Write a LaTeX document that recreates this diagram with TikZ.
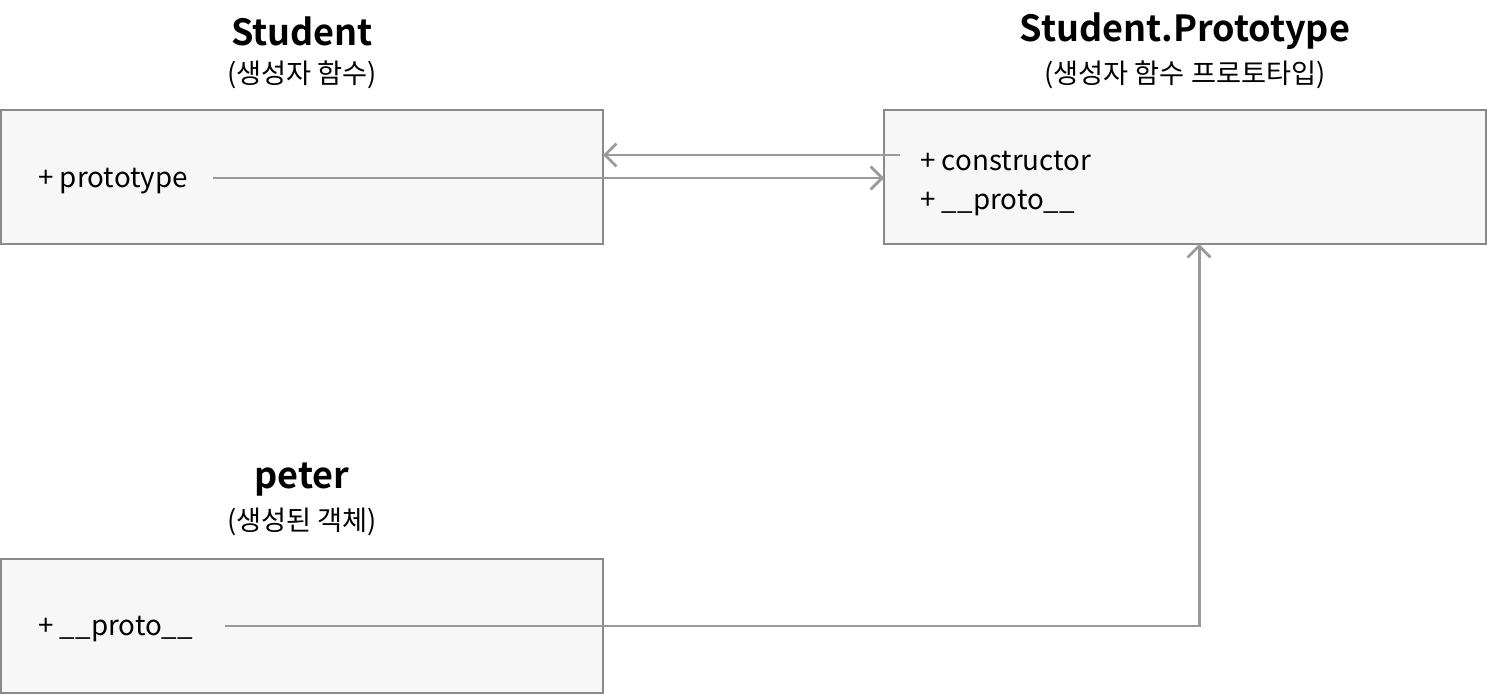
\documentclass[tikz,border=0pt]{standalone}
\usepackage{fontspec}
\setmainfont{Noto Sans CJK KR}[BoldFont={Noto Sans CJK KR Bold}]
\usetikzlibrary{arrows.meta}
\definecolor{boxline}{HTML}{8A8A8A}
\definecolor{boxfill}{HTML}{F7F7F7}
\definecolor{linkline}{HTML}{9A9A9A}
\tikzset{
  objbox/.style={draw=boxline, fill=boxfill, line width=1.1pt},
  title/.style={font=\fontsize{20.5}{24}\selectfont\bfseries},
  subtitle/.style={font=\fontsize{15.5}{18}\selectfont},
  member/.style={anchor=west, inner sep=0pt, font=\fontsize{15.8}{19}\selectfont},
  link/.style={draw=linkline, line width=1.7pt, -{Straight Barb[length=6.5pt,width=13pt,line width=1.6pt]}}
}
\begin{document}
\begin{tikzpicture}[x=0.02cm, y=-0.02cm]
        \useasboundingbox (0,0) rectangle (1487,695);

        \draw[objbox] (1,110) rectangle (603,244);
        \draw[objbox] (884,110) rectangle (1486,244);
        \draw[objbox] (1,559) rectangle (603,693);

        \node[title] (student) at (302,31) {Student};
        \node[subtitle] (studentsub) at (302,75) {(생성자 함수)};
        \node[title] (proto) at (1185,31) {Student.Prototype};
        \node[subtitle] (protosub) at (1185,75) {(생성자 함수 프로토타입)};
        \node[title] (peter) at (302,480) {peter};
        \node[subtitle] (petersub) at (302,522) {(생성된 객체)};

        \node[member] (sproto) at (38,181) {+ prototype};
        \node[member] (pctor) at (920,161) {+ constructor};
        \node[member] (pproto) at (920,203) {+ \_\_proto\_\_};
        \node[member] (peproto) at (38,629) {+ \_\_proto\_\_};

        \coordinate (ctorend) at (900,155);
        \coordinate (sboxend) at (603,155);
        \coordinate (sstart) at (213,178);
        \coordinate (pboxend) at (884,178);
        \coordinate (pestart) at (225,626);
        \coordinate (bend) at (1199,626);
        \coordinate (pboxbot) at (1199,244);

        \draw[link] (ctorend) -- (sboxend);
        \draw[link] (sstart) -- (pboxend);
        \draw[link] (pestart) -- (bend) -- (pboxbot);
      \end{tikzpicture}
\end{document}
